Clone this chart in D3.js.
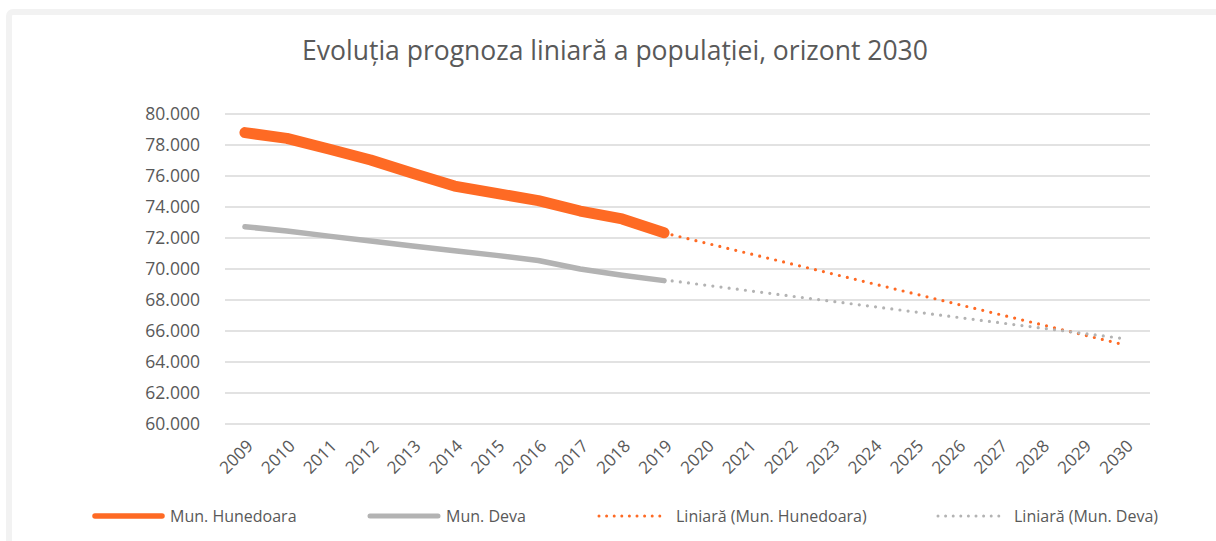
<!DOCTYPE html>
<html>
<head>
<meta charset="utf-8">
<script src="https://cdn.jsdelivr.net/npm/d3@7"></script>
<style>
  html, body { margin: 0; padding: 0; background: #fff; }
  svg { display: block; font-family: "Open Sans", "Noto Sans", sans-serif; }
</style>
</head>
<body>
<div id="chart"></div>
<script>
// chart data
var years = ["2009","2010","2011","2012","2013","2014","2015","2016","2017","2018","2019",
             "2020","2021","2022","2023","2024","2025","2026","2027","2028","2029","2030"];
var hunedoara = [78800, 78430, 77740, 77030, 76170, 75350, 74880, 74410, 73740, 73230, 72340];
var deva = [72730, 72450, 72120, 71810, 71480, 71180, 70880, 70550, 70000, 69600, 69250];
// linear trend lines, visible part (from the last observed year to 2030)
var trendYears = ["2019", "2030"];
var hunedoaraTrend = [72330, 65100];
var devaTrend = [69300, 65500];
var yTicks = [60000, 62000, 64000, 66000, 68000, 70000, 72000, 74000, 76000, 78000, 80000];

var W = 1216, H = 541;
var ORANGE = "#fe6a24", GREY = "#b3b3b3", TEXT = "#595959";

var svg = d3.select("#chart").append("svg").attr("width", W).attr("height", H);

// outer frame (light grey border of the panel)
svg.append("rect").attr("x", 9).attr("y", 12).attr("width", W + 20).attr("height", H + 20)
  .attr("rx", 4).attr("fill", "#fff").attr("stroke", "#f2f2f2").attr("stroke-width", 6);

svg.append("text").attr("x", 615).attr("y", 60).attr("text-anchor", "middle")
  .attr("font-size", 26.5).attr("fill", TEXT).text("Evoluția prognoza liniară a populației, orizont 2030");

var x = d3.scalePoint().domain(years).range([224, 1146]).padding(0.5);
var y = d3.scaleLinear().domain([60000, 80000]).range([424, 114]);
var fmt = d3.formatLocale({ decimal: ",", thousands: ".", grouping: [3], currency: ["", ""] }).format(",");

// grid + y labels
svg.append("g").selectAll("line").data(yTicks).enter().append("line")
  .attr("x1", 225).attr("x2", 1150)
  .attr("y1", function (d) { return y(d); }).attr("y2", function (d) { return y(d); })
  .attr("stroke", "#d9d9d9").attr("stroke-width", 1.3);

svg.append("g").selectAll("text").data(yTicks).enter().append("text")
  .attr("x", 200).attr("y", function (d) { return y(d); }).attr("dy", "0.36em")
  .attr("text-anchor", "end").attr("font-size", 17.5).attr("fill", TEXT)
  .text(function (d) { return fmt(d); });

// x labels, rotated
svg.append("g").selectAll("text").data(years).enter().append("text")
  .attr("transform", function (d) { return "translate(" + (x(d) + 5) + ",443) rotate(-45)"; })
  .attr("text-anchor", "end").attr("dy", "0.35em").attr("font-size", 17).attr("fill", TEXT)
  .text(function (d) { return d; });

var line = d3.line().x(function (d) { return x(d[0]); }).y(function (d) { return y(d[1]); });

function dotted(years_, vals, color) {
  svg.append("path").datum(d3.zip(years_, vals)).attr("d", line)
    .attr("fill", "none").attr("stroke", color).attr("stroke-width", 3.2)
    .attr("stroke-linecap", "round").attr("stroke-dasharray", "0 8.2");
}
function solid(vals, color, w) {
  svg.append("path").datum(d3.zip(years.slice(0, vals.length), vals)).attr("d", line)
    .attr("fill", "none").attr("stroke", color).attr("stroke-width", w)
    .attr("stroke-linecap", "round").attr("stroke-linejoin", "round");
}

dotted(trendYears, hunedoaraTrend, ORANGE);
dotted(trendYears, devaTrend, GREY);
solid(deva, GREY, 5.5);
solid(hunedoara, ORANGE, 11);

// legend
var legend = [
  { name: "Mun. Hunedoara", color: ORANGE, w: 5.5, dash: null, x0: 95, x1: 162, tx: 170 },
  { name: "Mun. Deva", color: GREY, w: 5, dash: null, x0: 370, x1: 438, tx: 446 },
  { name: "Liniară (Mun. Hunedoara)", color: ORANGE, w: 3, dash: "0 7.6", x0: 599, x1: 667, tx: 676 },
  { name: "Liniară (Mun. Deva)", color: GREY, w: 3, dash: "0 7.6", x0: 938, x1: 1006, tx: 1014 }
];
var lg = svg.append("g").selectAll("g").data(legend).enter().append("g");
lg.append("line").attr("x1", function (d) { return d.x0; }).attr("x2", function (d) { return d.x1; })
  .attr("y1", 516).attr("y2", 516)
  .attr("stroke", function (d) { return d.color; }).attr("stroke-width", function (d) { return d.w; })
  .attr("stroke-linecap", "round").attr("stroke-dasharray", function (d) { return d.dash; });
lg.append("text").attr("x", function (d) { return d.tx; }).attr("y", 516).attr("dy", "0.35em")
  .attr("font-size", 16).attr("fill", TEXT).text(function (d) { return d.name; });
</script>
</body>
</html>
